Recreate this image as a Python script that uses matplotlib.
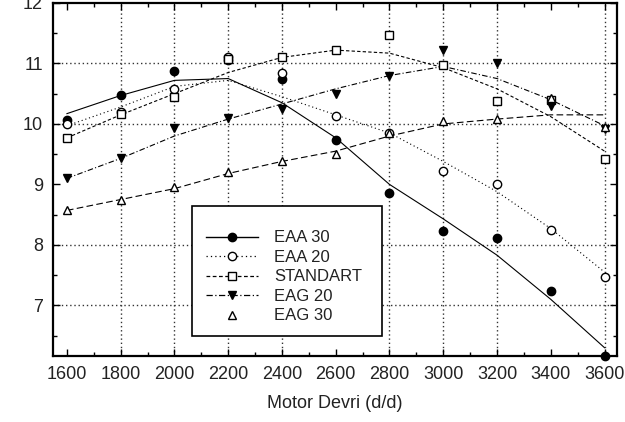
import matplotlib
matplotlib.use("Agg")
import matplotlib.pyplot as plt
from matplotlib.lines import Line2D
from matplotlib.patches import Rectangle
from matplotlib.ticker import MultipleLocator

plt.rcParams['font.family'] = ['Liberation Sans', 'DejaVu Sans']

# ---- data ----
rpm = [1600, 1800, 2000, 2200, 2400, 2600, 2800, 3000, 3200, 3400, 3600]
tick_labels = ["1600", "1800", "2000", "2200", "2400", "2600", "2800",
               "3000", "3200", "3400", "3600"]
y_ticks = [7, 8, 9, 10, 11, 12]

# measured points
eaa30 = [10.07, 10.47, 10.87, 11.05, 10.75, 9.73, 8.85, 8.23, 8.12, 7.23, 6.17]
eaa20 = [10.0, 10.2, 10.58, 11.1, 10.85, 10.13, 9.85, 9.22, 9.0, 8.25, 7.47]
standart = [9.77, 10.17, 10.45, 11.08, 11.1, 11.22, 11.47, 10.97, 10.38, 10.4, 9.42]
eag20 = [9.1, 9.43, 9.93, 10.1, 10.25, 10.5, 10.8, 11.22, 11.0, 10.3, 9.92]
eag30 = [8.57, 8.75, 8.95, 9.2, 9.38, 9.5, 9.85, 10.05, 10.08, 10.43, 9.95]

# trend curves as drawn
eaa30_fit = [10.17, 10.47, 10.72, 10.75, 10.35, 9.77, 9.0, 8.43, 7.83, 7.1, 6.3]
eaa20_fit = [9.97, 10.28, 10.62, 10.72, 10.45, 10.15, 9.85, 9.38, 8.88, 8.27, 7.55]
standart_fit = [9.77, 10.15, 10.5, 10.85, 11.1, 11.22, 11.17, 10.93, 10.58, 10.12, 9.55]
eag20_fit = [9.1, 9.43, 9.8, 10.08, 10.33, 10.58, 10.8, 10.95, 10.75, 10.4, 9.97]
eag30_fit = [8.57, 8.75, 8.93, 9.18, 9.38, 9.55, 9.8, 10.0, 10.08, 10.15, 10.15]

names = ["EAA 30", "EAA 20", "STANDART", "EAG 20", "EAG 30"]
grid_x = [1800, 2000, 2200, 2400, 2800, 3000, 3200, 3600]
grid_y = [7, 8, 10, 11]

# ---- figure ----
fig = plt.figure(figsize=(6.25, 4.22), dpi=100)
ax = fig.add_axes([0.0843, 0.156, 0.9027, 0.837])
ax.set_xlim(1547, 3646)
ax.set_ylim(6.16, 12.0)

tc = '#222222'
for gx in grid_x:
    ax.axvline(gx, color='#333333', lw=1.0, ls=(0, (1, 2)), zorder=1)
for gy in grid_y:
    ax.axhline(gy, color='#333333', lw=1.0, ls=(0, (1, 2)), zorder=1)

styles = [
    dict(ls='-', marker='o', mfc='black', mec='black'),
    dict(ls=(0, (1, 2.5)), marker='o', mfc='white', mec='black'),
    dict(ls=(0, (3, 2)), marker='s', mfc='white', mec='black'),
    dict(ls=(0, (5, 2, 1, 2)), marker='v', mfc='black', mec='black'),
    dict(ls=(0, (6, 3)), marker='^', mfc='white', mec='black'),
]
series = [eaa30, eaa20, standart, eag20, eag30]
fits = [eaa30_fit, eaa20_fit, standart_fit, eag20_fit, eag30_fit]

for vals, fit, st in zip(series, fits, styles):
    ax.plot(rpm, fit, color='black', lw=0.8, ls=st['ls'], zorder=2)
    ax.plot(rpm, vals, ls='none', marker=st['marker'], ms=6,
            mfc=st['mfc'], mec=st['mec'], mew=1.0, zorder=3, clip_on=False)

ax.set_xticks(rpm)
ax.set_xticklabels(tick_labels, fontsize=13, color=tc)
ax.xaxis.set_minor_locator(MultipleLocator(100))
ax.set_yticks(y_ticks)
ax.set_yticklabels([str(v) for v in y_ticks], fontsize=13, color=tc)
ax.yaxis.set_minor_locator(MultipleLocator(0.5))
ax.tick_params(which='major', direction='in', length=5, width=1,
               top=True, right=True, pad=7)
ax.tick_params(which='minor', direction='in', length=3, width=1,
               top=True, right=True)
for sp in ax.spines.values():
    sp.set_linewidth(1.6)

ax.set_xlabel("Motor Devri (d/d)", fontsize=13, color=tc, labelpad=9)

# legend
handles = []
for i, (nm, st) in enumerate(zip(names, styles)):
    ls = st['ls'] if i < 4 else 'none'
    handles.append(Line2D([], [], color='black', lw=1.0 if i == 0 else 0.9,
                          ls=ls, marker=st['marker'], ms=6,
                          mfc=st['mfc'], mec=st['mec']))
leg = ax.legend(handles, names, loc='upper left',
                bbox_to_anchor=(0.272, 0.356), frameon=False,
                fontsize=12, handlelength=3.1, handletextpad=1.0,
                labelspacing=0.27, borderaxespad=0, borderpad=0)
for t in leg.get_texts():
    t.set_color(tc)
ax.add_patch(Rectangle((0.247, 0.057), 0.337, 0.368, transform=ax.transAxes,
                       facecolor='white', edgecolor='black', lw=1.2, zorder=4))
leg.set_zorder(5)

fig.savefig("out.png", dpi=100)
